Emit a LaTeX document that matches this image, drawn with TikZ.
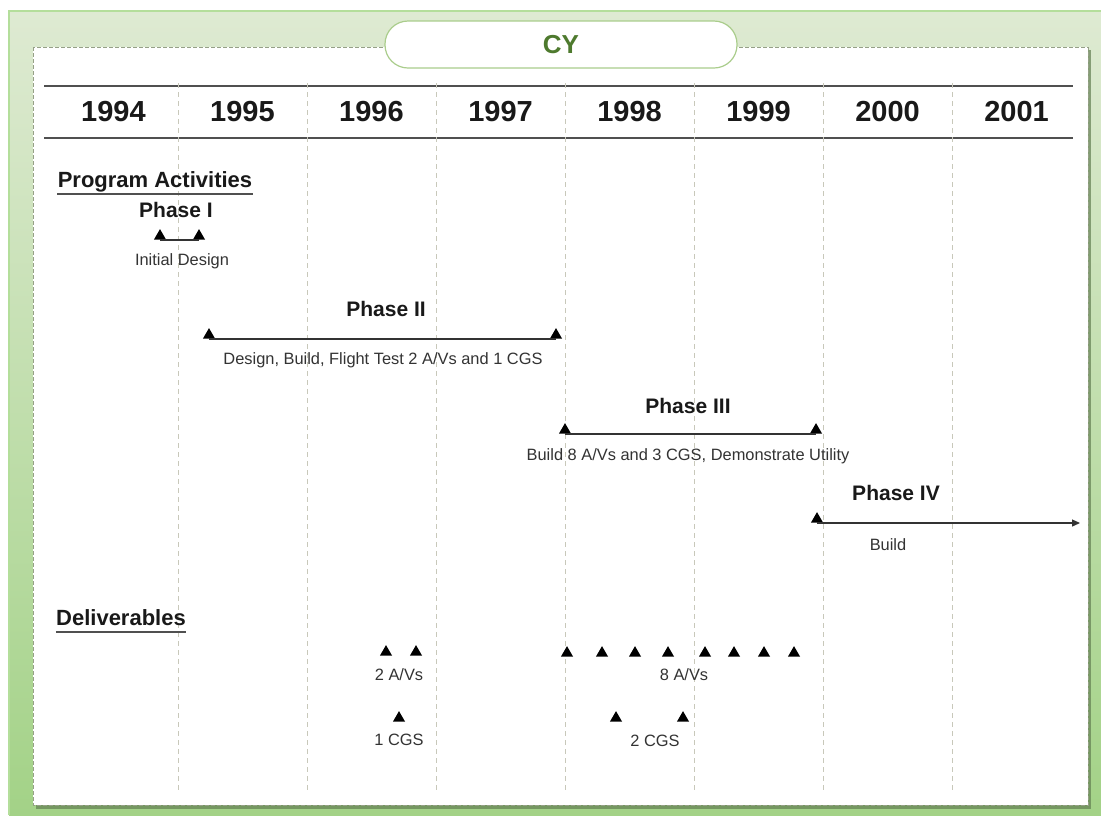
\documentclass[tikz,border=0pt]{standalone}
\usepackage{fontspec}
\setmainfont{Liberation Sans}
\usetikzlibrary{positioning,shapes.geometric,arrows.meta}

\definecolor{bgtop}{RGB}{222,234,210}
\definecolor{bgbot}{RGB}{163,210,135}
\definecolor{bgedge}{RGB}{180,222,155}
\definecolor{cygreen}{RGB}{78,122,46}
\definecolor{boxedge}{RGB}{170,205,140}
\definecolor{gridgray}{RGB}{200,200,186}
\definecolor{rulegray}{RGB}{80,80,80}
\definecolor{paneledge}{RGB}{150,160,135}

\tikzset{
	year/.style={font=\fontsize{14.5}{16}\selectfont\bfseries, text=black!90},
	heading/.style={font=\fontsize{11}{13}\selectfont\bfseries, text=black!90, inner sep=0pt},
	phase/.style={font=\fontsize{10.5}{12}\selectfont\bfseries, text=black!90},
	note/.style={font=\fontsize{8.2}{10}\selectfont, text=black!80, inner sep=1pt},
	tri/.style={regular polygon, regular polygon sides=3, fill=black, draw=none, inner sep=0pt, minimum size=7pt, anchor=south},
	span/.style={draw=black!80, line width=0.6pt},
	grid/.style={gridgray, line width=0.5pt, dash pattern=on 2.5pt off 2pt},
}

\begin{document}
\begin{tikzpicture}[x=0.5pt,y=-0.5pt,node distance=5pt]
		\useasboundingbox (0,0) rectangle (1101,815);
		\shade[top color=bgtop, bottom color=bgbot] (9,11) rectangle (1101,815);
		\draw[bgedge, line width=1pt] (9,815) -- (9,11) -- (1101,11);
		\fill[black!40!bgbot, opacity=0.7] (36,50) rectangle (1091,809);
		\fill[white] (33,47) rectangle (1088,805);
		\draw[paneledge, line width=0.5pt, dash pattern=on 2pt off 1pt] (33,47) rectangle (1088,805);
		
		\node[draw=boxedge, fill=white, line width=0.6pt, rounded corners=11.5pt, minimum width=176pt, minimum height=23.5pt, font=\fontsize{13}{15}\selectfont\bfseries, text=cygreen] (cy) at (561,44.5) {CY};
		
		\coordinate (rt1) at (44,86);
		\coordinate (rt2) at (1073,86);
		\coordinate (rb1) at (44,138);
		\coordinate (rb2) at (1073,138);
		\draw[rulegray, line width=1pt] (rt1) -- (rt2);
		\draw[rulegray, line width=1pt] (rb1) -- (rb2);
		
		\foreach \i in {1,...,7}
			\draw[grid] (49+129*\i,83) -- (49+129*\i,790);
		
		\foreach \yr [count=\i from 0] in {1994,1995,1996,1997,1998,1999,2000,2001}
			\node[year] (y\yr) at (113.5+129*\i,112) {\yr};
		
		\node[heading] (prog) at (155,182) {Program Activities};
		\draw[rulegray, line width=1pt] ([yshift=-3pt]prog.base west) -- ([yshift=-3pt]prog.base east);
		
		\node[phase] (ph1) at (176,210) {Phase I};
		\node[tri] (p1s) at (160,240) {};
		\node[tri] (p1e) at (199,240) {};
		\path[span] (p1s.south) edge (p1e.south);
		\node[note] (n1) at (182,261) {Initial Design};
		
		\node[phase] (ph2) at (386,309) {Phase II};
		\node[tri] (p2s) at (209,339) {};
		\node[tri] (p2e) at (556,339) {};
		\path[span] (p2s.south) edge (p2e.south);
		\node[note] (n2) at (383,360) {Design, Build, Flight Test 2 A/Vs and 1 CGS};
		
		\node[phase] (ph3) at (688,406) {Phase III};
		\node[tri] (p3s) at (565,434) {};
		\node[tri] (p3e) at (816,434) {};
		\path[span] (p3s.south) edge (p3e.south);
		\node[note] (n3) at (688,456) {Build 8 A/Vs and 3 CGS, Demonstrate Utility};
		
		\node[phase] (ph4) at (896,493) {Phase IV};
		\node[tri] (p4s) at (817,523) {};
		\coordinate (p4e) at (1080,523);
		\draw[span, -{Triangle[length=4pt,width=3.5pt]}] (p4s.south) -- (p4e);
		\node[note] (n4) at (888,545) {Build};
		
		\node[heading] (deliv) at (121,618) {Deliverables};
		\draw[rulegray, line width=1pt] ([yshift=-3pt]deliv.base west) -- ([yshift=-3pt]deliv.base east);
		
		\node[tri] (av1) at (386,656) {};
		\node[tri] (av2) at (416,656) {};
		\node[note] (av) at (399,675) {2 A/Vs};
		
		\node[tri] (cg1) at (399,722) {};
		\node[note] (cg) [below=of cg1] {1 CGS};
		
		\foreach \x [count=\k] in {567,602,635,668,705,734,764,794}
			\node[tri] (bv\k) at (\x,657) {};
		\node[note] (bv) at (684,675) {8 A/Vs};
		
		\node[tri] (bc1) at (616,722) {};
		\node[tri] (bc2) at (683,722) {};
		\node[note] (bc) at (655,741) {2 CGS};
	\end{tikzpicture}
\end{document}
